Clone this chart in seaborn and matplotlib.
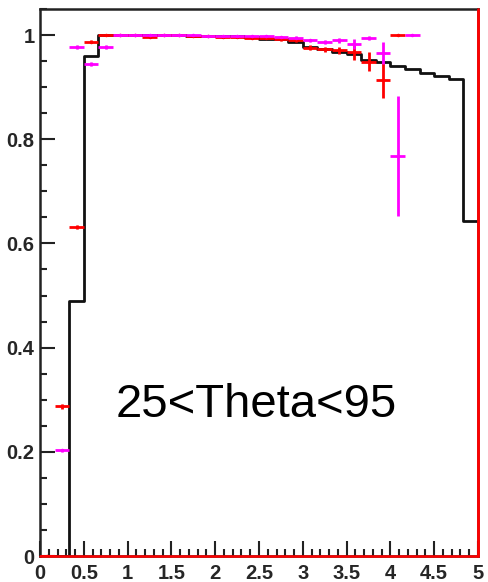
import numpy as np
import pandas as pd
import matplotlib
matplotlib.use("Agg")
import matplotlib.pyplot as plt
import seaborn as sns
from matplotlib.ticker import MultipleLocator, FormatStrFormatter

# Binning of the efficiency histograms (30 bins between 0 and 5)
n_bins = 30
x_lo, x_hi = 0.0, 5.0

# Reference efficiency (black step histogram)
eff_reference = [0.0, 0.0, 0.49, 0.96, 1.0, 1.0, 1.0, 1.0, 1.0, 1.0,
                 0.999, 0.999, 0.998, 0.998, 0.997, 0.993, 0.992, 0.987, 0.978, 0.973,
                 0.968, 0.964, 0.953, 0.949, 0.941, 0.935, 0.928, 0.921, 0.916, 0.644]

# Efficiency with errors, sample 1 (red)
eff_red = [0.0, 0.287, 0.632, 0.987, 1.0, 1.0, 1.0, 0.997, 1.0, 1.0,
           0.999, 0.999, 0.996, 0.996, 0.995, 0.994, 0.992, 0.990, 0.976, 0.973,
           0.971, 0.968, 0.949, 0.914, 1.0, np.nan, np.nan, np.nan, np.nan, np.nan]
err_red = [0.0, 0.004, 0.004, 0.003, 0.001, 0.001, 0.001, 0.002, 0.001, 0.001,
           0.001, 0.001, 0.002, 0.002, 0.002, 0.002, 0.003, 0.003, 0.004, 0.005,
           0.007, 0.015, 0.018, 0.034, 0.0, np.nan, np.nan, np.nan, np.nan, np.nan]

# Efficiency with errors, sample 2 (magenta)
eff_magenta = [np.nan, 0.203, 0.977, 0.945, 0.977, 1.0, 1.0, 1.0, 1.0, 1.0,
               1.0, 0.999, 0.999, 0.999, 0.998, 0.998, 0.997, 0.995, 0.990, 0.987,
               0.990, 0.983, 0.994, 0.965, 0.768, 1.0, np.nan, np.nan, np.nan, np.nan]
err_magenta = [np.nan, 0.003, 0.003, 0.004, 0.003, 0.001, 0.001, 0.001, 0.001, 0.001,
               0.001, 0.001, 0.001, 0.001, 0.002, 0.002, 0.002, 0.003, 0.003, 0.004,
               0.005, 0.009, 0.004, 0.021, 0.115, 0.0, np.nan, np.nan, np.nan, np.nan]

label_text = "25<Theta<95"

edges = np.linspace(x_lo, x_hi, n_bins + 1)
centers = 0.5 * (edges[:-1] + edges[1:])
bin_width = edges[1] - edges[0]
half_width = 0.5 * bin_width

df = pd.DataFrame({
    "x": centers,
    "ref": eff_reference,
    "red": eff_red,
    "red_err": err_red,
    "mag": eff_magenta,
    "mag_err": err_magenta,
})

sns.set_theme(style="white")
plt.rcParams["font.family"] = ["Liberation Sans", "DejaVu Sans"]

fig = plt.figure(figsize=(4.88, 5.82), dpi=100)
ax = fig.add_axes([40 / 488, 26 / 582, 438 / 488, 547 / 582])

sns.histplot(data=df, x="x", weights="ref", binwidth=bin_width,
             binrange=(x_lo, x_hi), element="step", fill=False,
             color="#111111", linewidth=2.0, ax=ax, zorder=2)

for col, err, color, z in [("red", "red_err", "#ff0000", 3),
                           ("mag", "mag_err", "#ff00ff", 4)]:
    sub = df.dropna(subset=[col])
    ax.errorbar(sub["x"], sub[col], yerr=sub[err], xerr=half_width,
                fmt="o", ms=1.5, color=color, ecolor=color,
                elinewidth=2.0, capsize=0, zorder=z, clip_on=True)

# Frame lines drawn in red along the bottom and right edges
ax.axhline(0.0, color="#ff0000", lw=1.8, zorder=5, clip_on=False)
ax.axvline(x_hi, color="#ff0000", lw=2.0, zorder=5, clip_on=False)

ax.text(2.47, 0.29, label_text, fontsize=34, ha="center", va="center",
        color="black", family=["Liberation Sans", "DejaVu Sans"])

ax.set_xlim(x_lo, x_hi)
ax.set_ylim(0.0, 1.05)
ax.set_xlabel("")
ax.set_ylabel("")

ax.xaxis.set_major_locator(MultipleLocator(0.5))
ax.xaxis.set_minor_locator(MultipleLocator(0.1))
ax.yaxis.set_major_locator(MultipleLocator(0.2))
ax.yaxis.set_minor_locator(MultipleLocator(0.05))
ax.xaxis.set_major_formatter(FormatStrFormatter("%g"))
ax.yaxis.set_major_formatter(FormatStrFormatter("%g"))

ax.tick_params(axis="both", which="both", direction="in", color="#222222",
               width=1.5, top=False, right=False, bottom=True, left=True)
ax.tick_params(axis="x", which="major", length=11, pad=6)
ax.tick_params(axis="x", which="minor", length=5)
ax.tick_params(axis="y", which="major", length=11, pad=4)
ax.tick_params(axis="y", which="minor", length=5)
for lab in ax.get_xticklabels() + ax.get_yticklabels():
    lab.set_fontweight("bold")
    lab.set_fontsize(14.5)

for side in ["left", "right", "top", "bottom"]:
    ax.spines[side].set_visible(True)
    ax.spines[side].set_color("#222222")
    ax.spines[side].set_linewidth(1.8)

fig.savefig("out.png", dpi=100)
